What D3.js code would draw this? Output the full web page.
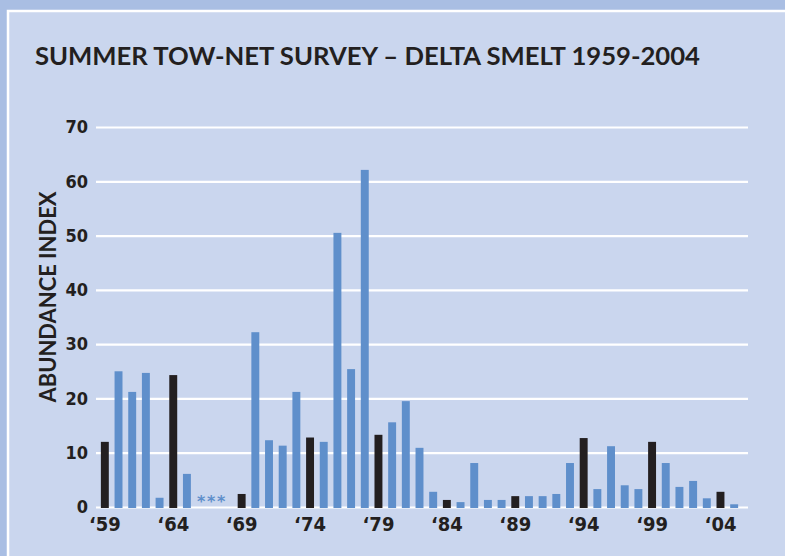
<!DOCTYPE html>
<html>
<head>
<meta charset="utf-8">
<script src="https://cdn.jsdelivr.net/npm/d3@7"></script>
<style>
  body { margin: 0; background: #a9bee3; }
  svg { display: block; }
</style>
</head>
<body>
<div id="chart"></div>
<script>
// Survey years (1966-1968 not sampled)
const years = [1959, 1960, 1961, 1962, 1963, 1964, 1965, 1966, 1967, 1968,
    1969, 1970, 1971, 1972, 1973, 1974, 1975, 1976, 1977, 1978,
    1979, 1980, 1981, 1982, 1983, 1984, 1985, 1986, 1987, 1988,
    1989, 1990, 1991, 1992, 1993, 1994, 1995, 1996, 1997, 1998,
    1999, 2000, 2001, 2002, 2003, 2004, 2005];

const abundance = [12.0, 25.0, 21.2, 24.7, 1.7, 24.3, 6.1, null, null, null,
    2.4, 32.2, 12.3, 11.3, 21.2, 12.8, 12.0, 50.5, 25.4, 62.1,
    13.3, 15.6, 19.5, 10.9, 2.8, 1.3, 0.9, 8.1, 1.3, 1.3,
    2.0, 2.0, 2.0, 2.4, 8.1, 12.7, 3.3, 11.2, 4.0, 3.3,
    12.0, 8.1, 3.7, 4.8, 1.6, 2.8, 0.5];

// Highlighted (dark) years, also the labelled ticks
const labelYears = [1959, 1964, 1969, 1974, 1979, 1984, 1989, 1994, 1999, 2004];
const missingYears = [1966, 1967, 1968];
const yTicks = [0, 10, 20, 30, 40, 50, 60, 70];

const data = years.map((y, i) => ({ year: y, value: abundance[i] }));

const W = 785, H = 556;
const margin = { top: 127, right: 37, bottom: 49, left: 96 };
const width = W - margin.left - margin.right;
const height = H - margin.top - margin.bottom;

const svg = d3.select("#chart")
    .append("svg")
    .attr("width", W)
    .attr("height", H);

// Background frame
svg.append("rect")
    .attr("width", W).attr("height", H)
    .attr("fill", "#a9bee3");
svg.append("rect")
    .attr("x", 8).attr("y", 11)
    .attr("width", W).attr("height", H)
    .attr("fill", "#cad6ee")
    .attr("stroke", "#ffffff")
    .attr("stroke-width", 2.5);

// Title
svg.append("text")
    .attr("x", 35)
    .attr("y", 65)
    .attr("textLength", 665)
    .attr("lengthAdjust", "spacingAndGlyphs")
    .style("font-family", "Lato, 'Open Sans', sans-serif")
    .style("font-weight", 700)
    .style("font-size", "25px")
    .attr("fill", "#231f20")
    .text("SUMMER TOW-NET SURVEY – DELTA SMELT 1959-2004");

// Y-axis title
svg.append("text")
    .attr("transform", "translate(56,297) rotate(-90)")
    .attr("text-anchor", "middle")
    .attr("textLength", 211)
    .attr("lengthAdjust", "spacingAndGlyphs")
    .style("font-family", "Lato, 'Open Sans', sans-serif")
    .style("font-weight", 700)
    .style("font-size", "23px")
    .attr("fill", "#231f20")
    .text("ABUNDANCE INDEX");

const g = svg.append("g")
    .attr("transform", `translate(${margin.left},${margin.top})`);

// Scales
const x = d3.scaleBand()
    .domain(years)
    .range([2, 645])
    .paddingInner(0.42)
    .paddingOuter(0.21);

const y = d3.scaleLinear()
    .domain([0, 70])
    .range([height, 0]);

const condensed = "'Liberation Sans Narrow', 'DejaVu Sans Condensed', 'Arial Narrow', sans-serif";

// Gridlines and y labels
const yAxis = g.append("g")
    .call(d3.axisLeft(y).tickValues(yTicks).tickSize(-width).tickPadding(8));
yAxis.select(".domain").remove();
yAxis.selectAll(".tick line")
    .attr("stroke", "#ffffff")
    .attr("stroke-width", 2.2);
yAxis.selectAll(".tick text")
    .attr("fill", "#231f20")
    .style("font-family", condensed)
    .style("font-weight", 700)
    .style("font-size", "18px");

// Bars
g.selectAll(".bar")
    .data(data.filter(d => d.value !== null))
    .enter()
    .append("rect")
    .attr("class", "bar")
    .attr("x", d => x(d.year))
    .attr("y", d => y(d.value))
    .attr("width", x.bandwidth())
    .attr("height", d => y(0) - y(d.value) + 1)
    .attr("fill", d => labelYears.includes(d.year) ? "#231f20" : "#5f8fcb");

// Asterisks for years without a survey
g.selectAll(".missing")
    .data(missingYears)
    .enter()
    .append("text")
    .attr("class", "missing")
    .attr("x", d => x(d) + x.bandwidth() / 2 - 3 - (d - 1967) * 3.7)
    .attr("y", y(0))
    .attr("text-anchor", "middle")
    .attr("fill", "#5f8fcb")
    .style("font-family", "'DejaVu Sans', sans-serif")
    .style("font-weight", 700)
    .style("font-size", "16px")
    .text("*");

// X axis labels
const xAxis = g.append("g")
    .attr("transform", `translate(0,${height})`)
    .call(d3.axisBottom(x)
        .tickValues(labelYears)
        .tickSize(0)
        .tickPadding(10)
        .tickFormat(d => "\u2018" + String(d).slice(2)));
xAxis.select(".domain").remove();
xAxis.selectAll(".tick text")
    .attr("fill", "#231f20")
    .attr("dy", "0.71em")
    .style("font-family", condensed)
    .style("font-weight", 700)
    .style("font-size", "20px");
</script>
</body>
</html>
